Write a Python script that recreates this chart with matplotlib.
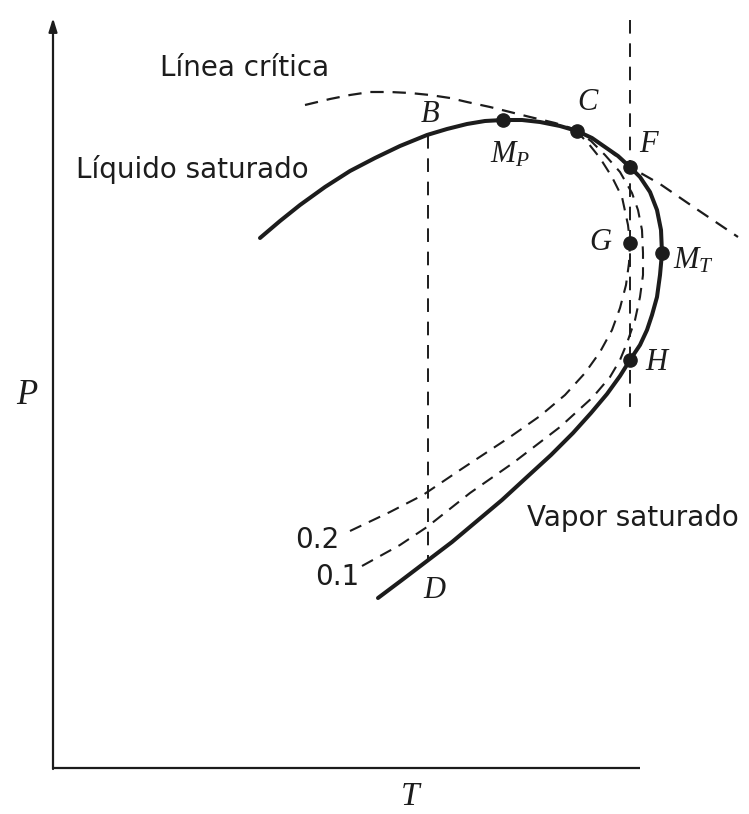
import matplotlib
matplotlib.use("Agg")
import matplotlib.pyplot as plt

plt.rcParams["mathtext.fontset"] = "custom"
plt.rcParams["mathtext.it"] = "Liberation Serif:italic"
plt.rcParams["mathtext.rm"] = "Liberation Serif"

# Phase envelope of a binary mixture (P-T), arbitrary units:
# saturated-liquid branch up to C, saturated-vapour branch after it
env_T = [207, 227, 247, 272, 297, 322, 347, 374, 394, 414, 432, 450, 469, 487,
         507, 524, 539, 552, 565, 577, 587, 597, 604, 608, 609, 607, 604, 599,
         594, 587, 577, 567, 554, 538, 520, 498, 474, 449, 424, 399, 374, 349,
         325]
env_P = [530, 547, 563, 581, 597, 610, 622, 633, 639, 644, 647, 648, 648, 646,
         642, 637, 630, 621, 612, 601, 591, 576, 558, 538, 515, 493, 471, 453,
         438, 423, 408, 392, 374, 355, 335, 313, 291, 268, 247, 226, 207, 188,
         170]

# Critical locus
crit_T = [252, 277, 297, 317, 337, 357, 377, 397, 414, 437, 457, 477, 502, 524,
          547, 577, 607, 642, 685]
crit_P = [663, 669, 673, 676, 676, 675, 673, 670, 666, 661, 656, 651, 645, 638,
          625, 601, 584, 560, 531]

# Constant-quality lines (vapour fraction 0.2 and 0.1)
q02_T = [297, 337, 370, 407, 457, 487, 512, 532, 547, 559, 567, 573, 576, 577,
         575, 569, 559, 547, 535, 526]
q02_P = [237, 256, 273, 298, 331, 352, 373, 395, 416, 438, 460, 483, 505, 525,
         543, 571, 591, 610, 625, 634]
q01_T = [309, 347, 374, 417, 460, 507, 540, 557, 567, 574, 582, 587, 590, 590,
         589, 585, 579, 567, 552, 538, 528]
q01_P = [202, 223, 241, 275, 305, 341, 371, 391, 408, 425, 448, 471, 493, 515,
         538, 558, 575, 596, 613, 627, 634]

# Isotherm B-D and isotherm through F
iso_BD_T = [375, 375]
iso_BD_P = [633, 207]
iso_F_T = [577, 577]
iso_F_P = [748, 353]

# Marked states: M_P, C, F, G, M_T, H
pt_T = [450, 524, 577, 577, 609, 577]
pt_P = [648, 637, 601, 525, 515, 408]

ink = "#1c1c1c"
dash = (0, (6, 4))

fig = plt.figure(figsize=(7.49, 8.14), dpi=100)
ax = fig.add_axes([0, 0, 1, 1])
ax.set_xlim(-53, 696)
ax.set_ylim(-46, 768)
ax.axis("off")

# axes, arrow on P only
ax.annotate("", xy=(0, 750), xytext=(0, -1),
            arrowprops=dict(arrowstyle="-|>,head_length=0.8,head_width=0.25",
                            color=ink, lw=1.6, shrinkA=0, shrinkB=0))
ax.plot([0, 587], [0, 0], color=ink, lw=1.6, solid_capstyle="butt")

ax.plot(crit_T, crit_P, color=ink, lw=1.6, linestyle=dash)
ax.plot(q02_T, q02_P, color=ink, lw=1.5, linestyle=dash)
ax.plot(q01_T, q01_P, color=ink, lw=1.5, linestyle=dash)
ax.plot(iso_BD_T, iso_BD_P, color=ink, lw=1.4, linestyle=(0, (7, 5)))
ax.plot(iso_F_T, iso_F_P, color=ink, lw=1.4, linestyle=(0, (7, 5)))
ax.plot(env_T, env_P, color=ink, lw=2.9, solid_capstyle="round",
        solid_joinstyle="round")
ax.plot(pt_T, pt_P, "o", color=ink, markersize=9.5)

sans = dict(family="DejaVu Sans", color=ink, fontsize=20)
serif = dict(family="Liberation Serif", style="italic", color=ink, fontsize=22)

ax.text(192, 700, "Línea crítica", ha="center", va="center", **sans)
ax.text(139, 598, "Líquido saturado", ha="center", va="center", **sans)
ax.text(474, 250, "Vapor saturado", ha="left", va="center", **sans)
ax.text(264, 228, "0.2", ha="center", va="center", **sans)
ax.text(284, 191, "0.1", ha="center", va="center", **sans)

ax.text(377, 653, "B", ha="center", va="center", **serif)
ax.text(534, 665, "C", ha="center", va="center", **serif)
ax.text(381, 177, "D", ha="center", va="center", **serif)
ax.text(595, 624, "F", ha="center", va="center", **serif)
ax.text(547, 525, "G", ha="center", va="center", **serif)
ax.text(603, 406, "H", ha="center", va="center", **serif)
ax.text(457, 614, r"$M_P$", ha="center", va="center", color=ink, fontsize=22)
ax.text(640, 508, r"$M_T$", ha="center", va="center", color=ink, fontsize=22)

ax.text(-26, 372, "P", ha="center", va="center",
        **{**serif, "fontsize": 25})
ax.text(357, -29, "T", ha="center", va="center",
        **{**serif, "fontsize": 24})

fig.savefig("out.png", dpi=100)
